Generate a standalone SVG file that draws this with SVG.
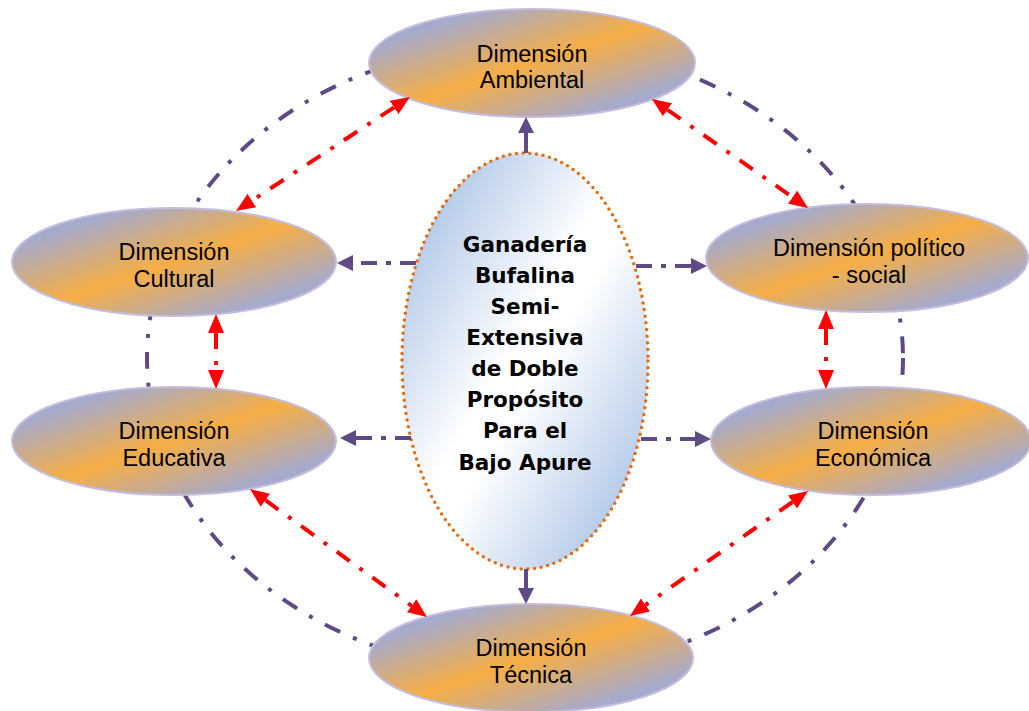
<svg xmlns="http://www.w3.org/2000/svg" width="1029" height="711" viewBox="0 0 1029 711">
<style>
.node{fill:url(#gNode);stroke:#C4BDDE;stroke-width:2}
.lbl{font-family:"Liberation Sans",Arial,sans-serif;font-size:23.5px;fill:#000;text-anchor:middle}
.ctr{font-family:"DejaVu Sans",Verdana,sans-serif;font-size:21.5px;font-weight:bold;fill:#000;text-anchor:middle}
.ring{fill:none;stroke:#5E4A84;stroke-width:4;stroke-dasharray:17 14 4 14}
.red{fill:none;stroke:#FF0000;stroke-width:4;stroke-dasharray:16 12 4 12;marker-start:url(#hR);marker-end:url(#hR)}
.pur{fill:none;stroke:#5E4A84;stroke-width:4;stroke-dasharray:16 9 5 9;marker-end:url(#hP)}
.purs{fill:none;stroke:#5E4A84;stroke-width:4;marker-end:url(#hP)}
</style>
<defs>
<linearGradient id="gNode" x1="0" y1="0" x2="1" y2="1">
<stop offset="0" stop-color="#9CA7D4"/>
<stop offset="0.18" stop-color="#A6AACB"/>
<stop offset="0.5" stop-color="#F6AE45"/>
<stop offset="0.82" stop-color="#A6AACB"/>
<stop offset="1" stop-color="#9CA7D4"/>
</linearGradient>
<linearGradient id="gCtr" x1="0" y1="0" x2="1" y2="1">
<stop offset="0" stop-color="#96B5E1"/>
<stop offset="0.46" stop-color="#FFFFFF"/>
<stop offset="0.54" stop-color="#FFFFFF"/>
<stop offset="1" stop-color="#96B5E1"/>
</linearGradient>
<marker id="hR" markerUnits="userSpaceOnUse" markerWidth="19" markerHeight="16" refX="0" refY="8" orient="auto-start-reverse">
<path d="M0,0 L19,8 L0,16 z" fill="#FF0000"/>
</marker>
<marker id="hP" markerUnits="userSpaceOnUse" markerWidth="16" markerHeight="16" refX="0" refY="8" orient="auto">
<path d="M0,0 L16,8 L0,16 z" fill="#5E4A84"/>
</marker>
</defs>
<rect width="1029" height="711" fill="#FFFFFF"/>
<g id="ring">
<ellipse class="ring" cx="525" cy="358" rx="378" ry="314"/>
</g>
<g id="node-ambiental">
<ellipse class="node" cx="532" cy="63" rx="163" ry="54"/>
<text class="lbl" x="532" y="62">Dimensión</text>
<text class="lbl" x="532" y="88">Ambiental</text>
</g>
<g id="node-cultural">
<ellipse class="node" cx="174" cy="262" rx="162" ry="54"/>
<text class="lbl" x="174" y="260">Dimensión</text>
<text class="lbl" x="174" y="287">Cultural</text>
</g>
<g id="node-politico">
<ellipse class="node" cx="867" cy="258" rx="161" ry="54"/>
<text class="lbl" x="869" y="256">Dimensión político</text>
<text class="lbl" x="869" y="283">- social</text>
</g>
<g id="node-educativa">
<ellipse class="node" cx="174" cy="441" rx="162" ry="54"/>
<text class="lbl" x="174" y="439">Dimensión</text>
<text class="lbl" x="174" y="466">Educativa</text>
</g>
<g id="node-economica">
<ellipse class="node" cx="871" cy="441" rx="160" ry="54"/>
<text class="lbl" x="873" y="439">Dimensión</text>
<text class="lbl" x="873" y="466">Económica</text>
</g>
<g id="node-tecnica">
<ellipse class="node" cx="531" cy="658" rx="162" ry="54"/>
<text class="lbl" x="531" y="656">Dimensión</text>
<text class="lbl" x="531" y="683">Técnica</text>
</g>
<g id="node-centro">
<ellipse cx="525" cy="361" rx="123" ry="208" fill="url(#gCtr)" stroke="#E46C0A" stroke-width="3.5" stroke-dasharray="0 6.7" stroke-linecap="round"/>
<text class="ctr" x="525" y="252">Ganadería</text>
<text class="ctr" x="525" y="283">Bufalina</text>
<text class="ctr" x="525" y="314">Semi-</text>
<text class="ctr" x="525" y="345">Extensiva</text>
<text class="ctr" x="525" y="376">de Doble</text>
<text class="ctr" x="525" y="407">Propósito</text>
<text class="ctr" x="525" y="438">Para el</text>
<text class="ctr" x="525" y="470">Bajo Apure</text>
</g>
<g id="connectors">
<line class="red" x1="394.1" y1="107.4" x2="251.9" y2="200.6"/>
<line class="red" x1="667.5" y1="109.8" x2="792.5" y2="197.2"/>
<line class="red" x1="216" y1="333" x2="216" y2="370"/>
<line class="red" x1="826" y1="329" x2="826" y2="370"/>
<line class="red" x1="265.4" y1="500.2" x2="411.6" y2="605.8"/>
<line class="red" x1="792.5" y1="502" x2="645.5" y2="605"/>
<line class="purs" x1="526" y1="153" x2="526" y2="133"/>
<line class="purs" x1="526" y1="569" x2="526" y2="588"/>
<line class="pur" x1="416" y1="263" x2="353" y2="263"/>
<line class="pur" x1="411" y1="438" x2="356" y2="438"/>
<line class="pur" x1="636" y1="266" x2="691" y2="266"/>
<line class="pur" x1="641" y1="439" x2="695" y2="439"/>
</g>
</svg>
